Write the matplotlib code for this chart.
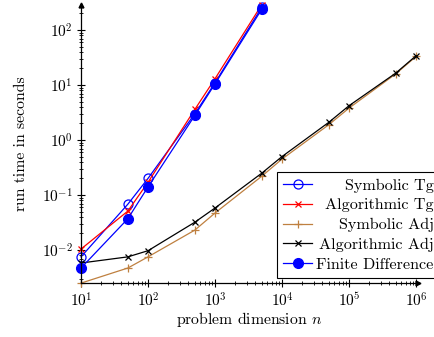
import matplotlib
matplotlib.use("Agg")
import matplotlib.pyplot as plt
import numpy as np

plt.rcParams['font.family'] = 'serif'
plt.rcParams['font.serif'] = ['cmr10', 'DejaVu Serif']
plt.rcParams['mathtext.fontset'] = 'cm'
plt.rcParams['axes.formatter.use_mathtext'] = True
plt.rcParams['axes.unicode_minus'] = False

# problem sizes
n_tg = [10, 50, 100, 500, 1000, 5000]
n_adj = [10, 50, 100, 500, 1000, 5000, 10000, 50000, 100000, 500000, 1000000]

# run times (s)
sym_tg = [0.0075, 0.068, 0.20, 3.0, 11.0, 260]
alg_tg = [0.0104, 0.051, 0.17, 3.6, 13.0, 290]
fin_diff = [0.0047, 0.037, 0.14, 2.8, 10.5, 240]
sym_adj = [0.0025, 0.0047, 0.0075, 0.023, 0.047, 0.22, 0.45, 1.9, 3.8, 16, 33]
alg_adj = [0.0058, 0.0075, 0.0097, 0.032, 0.058, 0.25, 0.50, 2.1, 4.2, 16.5, 34]

brown = (0.75, 0.5, 0.25)

fig = plt.figure(figsize=(4.35, 3.37), dpi=100)
ax = fig.add_axes([0.1862, 0.1602, 0.7747, 0.825])

ax.plot(n_tg, sym_tg, color='blue', lw=0.9, marker='o', ms=6.5, mfc='none',
        mew=0.9, label='Symbolic Tg', clip_on=False)
ax.plot(n_tg, alg_tg, color='red', lw=0.9, marker='x', ms=5, mew=0.9,
        label='Algorithmic Tg', clip_on=False)
ax.plot(n_adj, sym_adj, color=brown, lw=0.9, marker='+', ms=6, mew=0.9,
        label='Symbolic Adj', clip_on=False)
ax.plot(n_adj, alg_adj, color='black', lw=0.9, marker='x', ms=4.5, mew=0.9,
        label='Algorithmic Adj', clip_on=False)
ax.plot(n_tg, fin_diff, color='blue', lw=0.9, marker='o', ms=7,
        label='Finite Difference', clip_on=False)

ax.set_xscale('log')
ax.set_yscale('log')
ax.set_xlim(10, 1.07e6)
ax.set_ylim(0.00251, 285)

for s in ['top', 'right']:
    ax.spines[s].set_visible(False)
for s in ['left', 'bottom']:
    ax.spines[s].set_linewidth(0.9)

# arrow heads at the axis ends
ax.plot(1, 0, '>k', ms=3.5, transform=ax.transAxes, clip_on=False)
ax.plot(0, 1, '^k', ms=3.5, transform=ax.transAxes, clip_on=False)

ax.tick_params(which='major', direction='inout', length=6, width=0.8,
               labelsize=11, pad=3)
ax.tick_params(which='minor', direction='inout', length=3.5, width=0.6)
ax.yaxis.set_minor_locator(matplotlib.ticker.LogLocator(base=10, subs=np.arange(2, 10), numticks=20))
ax.xaxis.set_minor_locator(matplotlib.ticker.LogLocator(base=10, subs=np.arange(2, 10), numticks=20))
ax.xaxis.set_minor_formatter(matplotlib.ticker.NullFormatter())
ax.yaxis.set_minor_formatter(matplotlib.ticker.NullFormatter())

ax.set_xlabel('problem dimension $n$', fontsize=11.3)
ax.set_ylabel('run time in seconds', fontsize=11.3)
ax.xaxis.set_label_coords(0.5, -0.098)
ax.yaxis.set_label_coords(-0.157, 0.5)

leg = ax.legend(loc='upper left', bbox_to_anchor=(277 / 435, 1 - 172 / 337),
                bbox_transform=fig.transFigure, fontsize=11.6, fancybox=False,
                edgecolor='black', framealpha=1, handlelength=1.8,
                labelspacing=0.34, borderpad=0.4, handletextpad=0.25,
                borderaxespad=0)
leg.get_frame().set_linewidth(0.8)

# right-align the legend texts like pgfplots
fig.canvas.draw()
renderer = fig.canvas.get_renderer()
widths = [t.get_window_extent(renderer).width for t in leg.get_texts()]
shift = max(widths)
for t, w in zip(leg.get_texts(), widths):
    t.set_position((shift - w, 0))

fig.savefig('out.png', dpi=100)
